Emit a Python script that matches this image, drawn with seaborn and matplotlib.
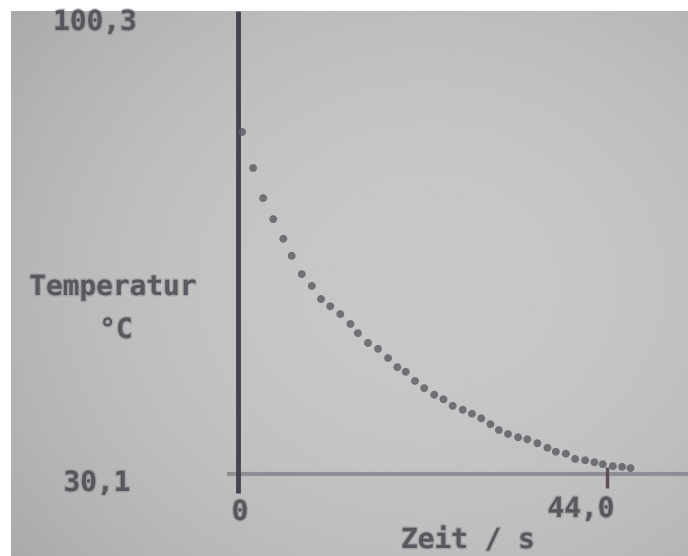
import numpy as np
import pandas as pd
import matplotlib
matplotlib.use("Agg")
import matplotlib.pyplot as plt
import matplotlib.patheffects as pe
import seaborn as sns

zeit_s = [0.5, 1.8, 3.0, 4.2, 5.4, 6.4, 7.6, 8.8, 9.9, 11.0, 12.2, 13.4, 14.3, 15.5,
          16.7, 17.9, 19.0, 20.0, 21.1, 22.2, 23.4, 24.5, 25.6, 26.8, 27.9, 29.0,
          30.1, 31.1, 32.2, 33.4, 34.5, 35.7, 36.9, 37.9, 39.1, 40.2, 41.4, 42.5,
          43.5, 44.7, 45.8, 46.8]
temperatur_c = [82.3, 76.8, 72.2, 69.0, 66.0, 63.4, 60.6, 58.8, 56.8, 55.7, 54.5, 53.0,
                51.6, 50.1, 49.2, 47.8, 46.4, 45.7, 44.3, 43.2, 42.2, 41.5, 40.5, 39.9,
                39.3, 38.6, 37.7, 36.8, 36.2, 35.7, 35.4, 34.8, 34.1, 33.5, 33.2, 32.4,
                32.2, 31.9, 31.6, 31.3, 31.2, 31.0]

X_MIN, X_MAX = 0.0, 44.0
Y_MIN, Y_MAX = 30.1, 100.3
y_labels = ["100,3", "30,1"]
x_labels = ["0", "44,0"]

df = pd.DataFrame({"zeit": zeit_s, "temp": temperatur_c})

sns.set_theme(style="white")
plt.rcParams["font.family"] = ["DejaVu Sans Mono", "DejaVu Sans"]

W, H = 688, 556
fig = plt.figure(figsize=(W / 100, H / 100), dpi=100, facecolor="white")
ax = fig.add_axes([11 / W, 0, 1 - 11 / W, 1 - 11 / H])

# pixel mapping of the photographed screen
px_per_s = 8.386
px_per_deg = 6.553
x0_px, y0_px = 238, 474
ax.set_xlim((11 - x0_px) / px_per_s, (W - x0_px) / px_per_s)
ax.set_ylim(Y_MIN - (H - y0_px) / px_per_deg, Y_MIN + (y0_px - 11) / px_per_deg)
ax.set_axis_off()

# soft vignette of the photo
xl, yl = ax.get_xlim(), ax.get_ylim()
gx, gy = np.meshgrid(np.linspace(0, 1, 300), np.linspace(0, 1, 240))
r = np.sqrt(((gx - 0.62) / 0.75) ** 2 + ((gy - 0.5) / 0.8) ** 2)
shade = 0.785 - 0.11 * r ** 2
ax.imshow(shade, cmap="gray", vmin=0, vmax=1, extent=[xl[0], xl[1], yl[0], yl[1]],
          aspect="auto", origin="lower", zorder=0)

# axes of the display
ax.hlines(Y_MIN, X_MIN - 1.3, xl[1], color="#8e8e94", lw=3, zorder=1)
ax.vlines(X_MIN, Y_MIN - 2.9, yl[1], color="#44444f", lw=3.5, zorder=2)
ax.vlines(X_MAX, Y_MIN - 2.1, Y_MIN + 1.1, color="#5e5058", lw=2.5, zorder=2)

sns.scatterplot(data=df, x="zeit", y="temp", ax=ax, s=32, color="#5a5a62",
                edgecolor="none", alpha=0.8, zorder=3)

txt = dict(fontsize=20, fontweight="bold", color="#4a4a52", ha="center", va="center",
           alpha=0.8, path_effects=[pe.withStroke(linewidth=2, foreground="#707078", alpha=0.3)])

def fpos(px, py):
    return px / W, 1 - py / H

fig.text(*fpos(95, 22), y_labels[0], **txt)
fig.text(*fpos(97, 483), y_labels[1], **txt)
fig.text(*fpos(113, 287), "Temperatur", **txt)
fig.text(*fpos(116, 330), "°C", **txt)
fig.text(*fpos(240, 512), x_labels[0], **txt)
fig.text(*fpos(581, 509), x_labels[1], **txt)
fig.text(*fpos(468, 540), "Zeit / s", **txt)

fig.savefig("out.png", dpi=100, facecolor="white")
plt.close(fig)
